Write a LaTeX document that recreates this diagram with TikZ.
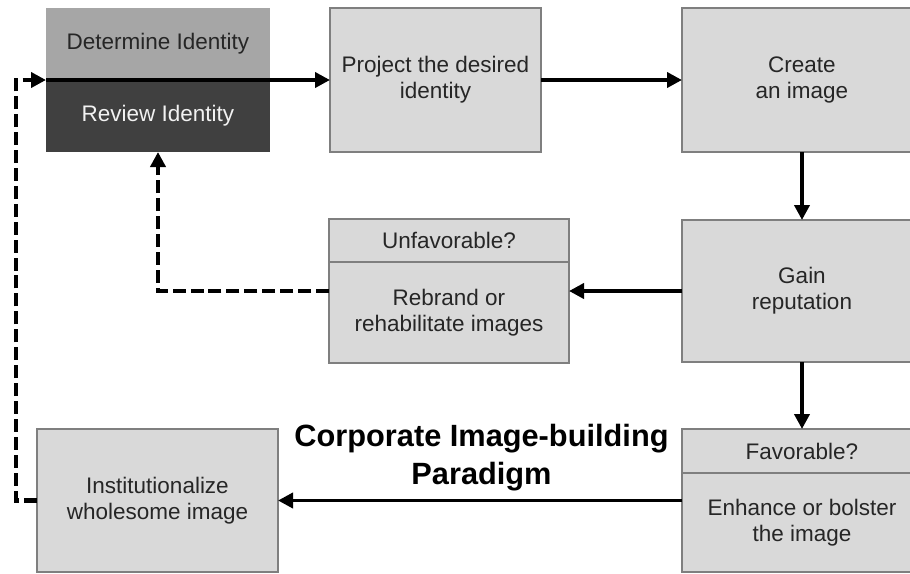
\documentclass[tikz,border=0pt]{standalone}
\usepackage{fontspec}
\setmainfont{Liberation Sans}
\usepackage{xcolor}
\usetikzlibrary{arrows.meta,positioning}
\definecolor{boxfill}{HTML}{D9D9D9}
\definecolor{boxline}{HTML}{7F7F7F}
\definecolor{lightgrey}{HTML}{A6A6A6}
\definecolor{darkgrey}{HTML}{404040}
\definecolor{ink}{HTML}{262626}

\begin{document}
\begin{tikzpicture}[node distance=0pt,
  box/.style={draw=boxline,line width=1.1pt,fill=boxfill,text=ink,align=center,inner sep=2pt,outer sep=0pt,
    font=\fontsize{12.8}{14.8}\selectfont},
  flow/.style={line width=2.2pt,-{Triangle[length=3mm,width=3mm]}},
  back/.style={line width=2.3pt,dash pattern=on 7.4pt off 2.8pt,-{Triangle[length=3mm,width=3mm]}},
  title/.style={align=center,font=\fontsize{17.5}{21.6}\selectfont\bfseries}]
\clip (0,0) rectangle (18.2,-11.48);
% top row
\node[box,draw=none,fill=lightgrey,minimum width=4.48cm,minimum height=1.44cm] (det) at (3.16,-0.88) {Determine Identity};
\node[box,draw=none,fill=darkgrey,text=white!95!black,minimum width=4.48cm,minimum height=1.44cm,below=of det] (rev) {Review Identity};
\node[box,minimum width=4.22cm,minimum height=2.88cm] (proj) at (8.71,-1.6) {Project the desired\\identity};
\node[box,minimum width=4.8cm,minimum height=2.88cm] (create) at (16.04,-1.6) {Create\\an image};
% middle row
\node[box,minimum width=4.8cm,minimum height=2.84cm] (gain) at (16.04,-5.82) {Gain\\reputation};
\node[box,minimum width=4.8cm,minimum height=0.86cm] (unfhead) at (8.98,-4.81) {Unfavorable?};
\node[box,minimum width=4.8cm,minimum height=2.02cm,below=of unfhead] (unfbody) {Rebrand or\\rehabilitate images};
% bottom row
\node[box,minimum width=4.8cm,minimum height=0.88cm] (favhead) at (16.04,-9.02) {Favorable?};
\node[box,minimum width=4.8cm,minimum height=1.98cm,below=of favhead] (favbody) {Enhance or bolster\\the image};
\node[box,minimum width=4.82cm,minimum height=2.86cm] (inst) at (3.15,-10.01) {Institutionalize\\wholesome image};
\node[title] (ttl) at (9.63,-9.16) {Corporate Image-building\\Paradigm};
% connectors
\draw[flow] (det.south west) -- (proj.west);
\draw[flow] (proj) -- (create);
\draw[flow] (create) -- (gain);
\draw[flow] (gain) -- (favhead);
\draw[flow] (gain.west) -- (gain.west -| unfbody.east);
\draw[flow] (favbody.west |- inst.east) -- (inst.east);
\draw[back] (unfbody.west |- gain.west) -| (rev.south);
\draw[back] (inst.west) -- ++(-0.42,0) |- (det.south west);
\end{tikzpicture}
\end{document}
